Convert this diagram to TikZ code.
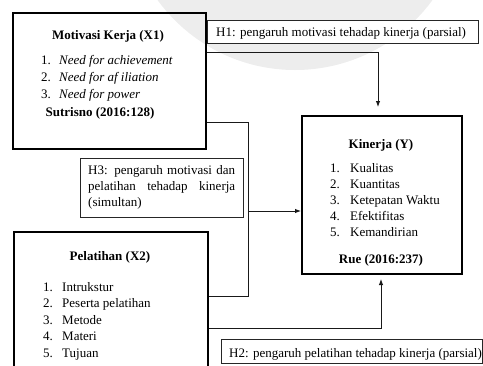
\documentclass[tikz,border=0pt]{standalone}
\usepackage{fontspec}
\setmainfont{Liberation Serif}
\usetikzlibrary{arrows.meta}
\begin{document}
\begin{tikzpicture}[x=1pt,y=-1pt,
  bigbox/.style={draw, line width=1.6pt, rectangle, inner sep=0pt, anchor=north west},
  hbox/.style={draw=black!85, line width=0.8pt, rectangle, inner sep=0pt, anchor=north west},
  txt/.style={inner sep=0pt, anchor=base west, font=\fontsize{13}{15}\selectfont},
  ttl/.style={inner sep=0pt, anchor=base, font=\fontsize{13}{15}\selectfont\bfseries},
  conn/.style={draw=black!90, line width=0.9pt},
  arr/.style={conn, -{Latex[length=6pt,width=4.5pt]}}
]
\useasboundingbox (0,0) rectangle (483,365);
\clip (0,0) rectangle (483,365);
% watermark
\fill[black!7] (295,-100) circle (170);

% boxes
\node[bigbox, minimum width=193pt, minimum height=136pt] (mot) at (12,12) {};
\node[bigbox, minimum width=160pt, minimum height=158pt] (kin) at (301,115) {};
\node[bigbox, minimum width=194pt, minimum height=160pt] (pel) at (13,231) {};
\node[hbox, fill=white, minimum width=271pt, minimum height=23pt] (h1) at (207,20) {};
\node[hbox, fill=white, minimum width=163pt, minimum height=59pt] (h3) at (80,158) {};
\node[hbox, fill=white, minimum width=261pt, minimum height=24pt] (h2) at (221,339) {};

% Motivasi text
\node[ttl] (motT) at (108,39) {Motivasi Kerja (X1)};
\node[txt] (motN1) at (41,64) {1.};
\node[txt] (motI1) at (59,64) {\itshape Need for achievement};
\node[txt] (motN2) at (41,81) {2.};
\node[txt] (motI2) at (59,81) {\itshape Need for af iliation};
\node[txt] (motN3) at (41,98) {3.};
\node[txt] (motI3) at (59,98) {\itshape Need for power};
\node[ttl] (motS) at (100,116) {Sutrisno (2016:128)};

% Kinerja text
\node[ttl] (kinT) at (381,148) {Kinerja (Y)};
\node[txt] (kinN1) at (330,172) {1.};
\node[txt] (kinI1) at (350,172) {Kualitas};
\node[txt] (kinN2) at (330,188.2) {2.};
\node[txt] (kinI2) at (350,188.2) {Kuantitas};
\node[txt] (kinN3) at (330,204.4) {3.};
\node[txt] (kinI3) at (350,204.4) {Ketepatan Waktu};
\node[txt] (kinN4) at (330,220.6) {4.};
\node[txt] (kinI4) at (350,220.6) {Efektifitas};
\node[txt] (kinN5) at (330,236.8) {5.};
\node[txt] (kinI5) at (350,236.8) {Kemandirian};
\node[ttl] (kinS) at (381,263) {Rue (2016:237)};

% Pelatihan text
\node[ttl] (pelT) at (110,260) {Pelatihan (X2)};
\node[txt] (pelN1) at (43,291) {1.};
\node[txt] (pelI1) at (62,291) {Intrukstur};
\node[txt] (pelN2) at (43,307.5) {2.};
\node[txt] (pelI2) at (62,307.5) {Peserta pelatihan};
\node[txt] (pelN3) at (43,324) {3.};
\node[txt] (pelI3) at (62,324) {Metode};
\node[txt] (pelN4) at (43,340.5) {4.};
\node[txt] (pelI4) at (62,340.5) {Materi};
\node[txt] (pelN5) at (43,357) {5.};
\node[txt] (pelI5) at (62,357) {Tujuan};

% hypothesis texts
\node[txt] (h1t) at (216,36) {H1: pengaruh motivasi tehadap kinerja (parsial)};
\node[txt] (h3a) at (88,174) {\makebox[147pt][s]{H3: pengaruh motivasi dan}};
\node[txt] (h3b) at (88,190) {\makebox[147pt][s]{pelatihan tehadap kinerja}};
\node[txt] (h3c) at (88,206) {(simultan)};
\node[txt] (h2t) at (229,357) {H2: pengaruh pelatihan tehadap kinerja (parsial)};

% connectors
\coordinate (h1tip) at (378,107);
\draw[arr] (mot.east |- 0,52) -| (h1tip);
\coordinate (h3r) at (248,122);
\coordinate (h3b2) at (248,296);
\draw[conn] (mot.east |- h3r) -- (h3r) -- (h3b2) -- (pel.east |- h3b2);
\coordinate (h3m) at (248,211);
\draw[arr] (h3m) -- (kin.west |- h3m);
\coordinate (h2tip) at (381,279);
\draw[arr] (pel.east |- 0,328) -| (h2tip);
\end{tikzpicture}
\end{document}
